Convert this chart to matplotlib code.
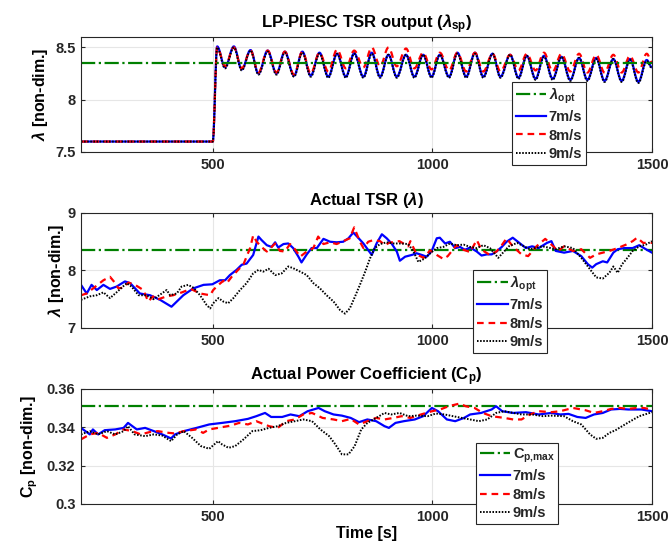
import matplotlib
matplotlib.use("Agg")
import matplotlib.pyplot as plt
from matplotlib.path import Path
from matplotlib.patches import PathPatch
from matplotlib.lines import Line2D

# ---------------------------------------------------------------------------
# Data
# ---------------------------------------------------------------------------

LAMBDA_OPT = 8.35
CP_MAX = 0.351

# Panel 1: LP-PIESC TSR output (setpoint), peaks and troughs of the oscillation
t_sp = [200, 500, 510, 528, 548, 566, 586, 604, 625, 645, 664, 685, 704, 723,
        743, 763, 783, 803, 822, 843, 862, 881, 900, 919, 940, 959, 979, 998,
        1017, 1038, 1057, 1077, 1097, 1116, 1137, 1155, 1177, 1196, 1215, 1235,
        1254, 1274, 1294, 1314, 1334, 1353, 1373, 1392, 1412, 1431, 1450, 1469,
        1488, 1500]
sp_7 = [7.6, 7.6, 8.51, 8.31, 8.51, 8.29, 8.475, 8.25, 8.47, 8.25, 8.46, 8.23,
        8.46, 8.23, 8.45, 8.22, 8.44, 8.22, 8.445, 8.22, 8.45, 8.22, 8.43, 8.22,
        8.43, 8.22, 8.43, 8.22, 8.43, 8.22, 8.45, 8.22, 8.45, 8.22, 8.44, 8.22,
        8.43, 8.21, 8.42, 8.20, 8.42, 8.20, 8.41, 8.19, 8.40, 8.19, 8.40, 8.18,
        8.39, 8.18, 8.39, 8.17, 8.38, 8.31]
sp_8 = [7.6, 7.6, 8.50, 8.32, 8.50, 8.30, 8.47, 8.26, 8.47, 8.26, 8.46, 8.24,
        8.46, 8.25, 8.45, 8.27, 8.48, 8.30, 8.47, 8.31, 8.50, 8.32, 8.50, 8.32,
        8.49, 8.30, 8.45, 8.29, 8.45, 8.28, 8.45, 8.27, 8.45, 8.27, 8.44, 8.27,
        8.43, 8.28, 8.44, 8.28, 8.45, 8.27, 8.44, 8.27, 8.44, 8.26, 8.43, 8.26,
        8.43, 8.26, 8.42, 8.26, 8.44, 8.36]
sp_9 = [7.6, 7.6, 8.50, 8.30, 8.50, 8.28, 8.47, 8.24, 8.46, 8.24, 8.45, 8.22,
        8.45, 8.22, 8.44, 8.21, 8.44, 8.21, 8.44, 8.21, 8.44, 8.21, 8.43, 8.21,
        8.43, 8.21, 8.43, 8.21, 8.43, 8.21, 8.44, 8.21, 8.44, 8.21, 8.44, 8.21,
        8.43, 8.20, 8.42, 8.19, 8.41, 8.19, 8.41, 8.18, 8.40, 8.18, 8.39, 8.17,
        8.39, 8.17, 8.38, 8.16, 8.37, 8.30]

# Panel 2: actual TSR
t_tsr_7 = [200, 213, 224, 236, 251, 266, 281, 300, 312, 334, 357, 380, 406, 433,
           456, 479, 499, 516, 528, 539, 554, 566, 577, 592, 604, 611, 623, 634,
           642, 649, 661, 672, 683, 695, 702, 714, 725, 737, 752, 767, 782, 797,
           809, 820, 831, 843, 862, 873, 885, 896, 907, 919, 926, 938, 953, 964,
           976, 987, 998, 1010, 1017, 1029, 1040, 1052, 1063, 1074, 1086, 1101,
           1112, 1124, 1135, 1146, 1158, 1169, 1183, 1198, 1213, 1227, 1242, 1261,
           1271, 1281, 1300, 1320, 1339, 1354, 1364, 1373, 1388, 1398, 1412, 1422,
           1437, 1456, 1471, 1486, 1500]
tsr_7 = [7.75, 7.60, 7.75, 7.66, 7.75, 7.68, 7.72, 7.81, 7.78, 7.60, 7.57, 7.49,
         7.37, 7.57, 7.69, 7.75, 7.76, 7.83, 7.83, 7.92, 8.01, 8.10, 8.12, 8.27,
         8.59, 8.53, 8.44, 8.41, 8.49, 8.40, 8.46, 8.47, 8.39, 8.24, 8.14, 8.28,
         8.39, 8.39, 8.55, 8.50, 8.49, 8.50, 8.56, 8.66, 8.57, 8.47, 8.27, 8.47,
         8.63, 8.56, 8.47, 8.33, 8.17, 8.24, 8.27, 8.30, 8.27, 8.24, 8.33, 8.56,
         8.57, 8.47, 8.50, 8.39, 8.41, 8.36, 8.40, 8.33, 8.26, 8.28, 8.28, 8.33,
         8.41, 8.50, 8.57, 8.48, 8.39, 8.42, 8.39, 8.48, 8.51, 8.34, 8.31, 8.34,
         8.25, 8.11, 8.05, 8.11, 8.16, 8.14, 8.31, 8.37, 8.39, 8.39, 8.44, 8.37,
         8.31]

t_tsr_8 = [200, 213, 251, 266, 278, 285, 296, 308, 323, 342, 353, 364, 372, 395,
           410, 430, 450, 471, 486, 494, 501, 513, 524, 532, 543, 554, 570, 585,
           592, 600, 611, 623, 634, 642, 653, 664, 676, 687, 699, 714, 729, 740,
           752, 767, 782, 797, 812, 822, 835, 843, 854, 866, 881, 892, 901, 915,
           925, 945, 950, 964, 980, 995, 1010, 1025, 1035, 1055, 1071, 1086, 1101,
           1112, 1131, 1146, 1158, 1169, 1183, 1203, 1218, 1237, 1257, 1271, 1286,
           1300, 1320, 1339, 1359, 1373, 1388, 1403, 1422, 1441, 1456, 1466, 1480,
           1500]
tsr_8 = [7.57, 7.60, 7.83, 7.89, 7.78, 7.69, 7.70, 7.79, 7.75, 7.66, 7.46, 7.55,
         7.49, 7.55, 7.57, 7.62, 7.68, 7.60, 7.58, 7.57, 7.66, 7.75, 7.82, 7.78,
         7.89, 7.98, 8.11, 8.39, 8.61, 8.50, 8.41, 8.33, 8.41, 8.47, 8.34, 8.33,
         8.46, 8.37, 8.24, 8.33, 8.39, 8.59, 8.46, 8.49, 8.46, 8.51, 8.56, 8.75,
         8.50, 8.39, 8.50, 8.53, 8.51, 8.44, 8.48, 8.50, 8.51, 8.42, 8.51, 8.28,
         8.22, 8.35, 8.27, 8.20, 8.25, 8.44, 8.36, 8.32, 8.53, 8.36, 8.27, 8.33,
         8.44, 8.56, 8.42, 8.28, 8.25, 8.42, 8.55, 8.45, 8.34, 8.42, 8.34, 8.37,
         8.22, 8.28, 8.31, 8.34, 8.39, 8.45, 8.51, 8.57, 8.48, 8.48]

t_tsr_9 = [200, 220, 236, 251, 266, 281, 304, 315, 331, 349, 365, 380, 395, 403,
           418, 429, 444, 456, 471, 486, 494, 501, 513, 524, 535, 547, 562, 577,
           592, 604, 615, 627, 642, 657, 672, 683, 699, 714, 729, 744, 759, 775,
           790, 801, 812, 824, 835, 847, 858, 869, 881, 896, 911, 926, 945, 957,
           968, 983, 995, 1010, 1025, 1040, 1055, 1071, 1086, 1101, 1116, 1131,
           1150, 1174, 1193, 1222, 1251, 1281, 1300, 1320, 1339, 1359, 1373, 1388,
           1403, 1412, 1422, 1432, 1441, 1456, 1471, 1486, 1500]
tsr_9 = [7.49, 7.55, 7.57, 7.62, 7.52, 7.62, 7.78, 7.72, 7.57, 7.57, 7.50, 7.58,
         7.66, 7.57, 7.60, 7.72, 7.75, 7.70, 7.57, 7.40, 7.34, 7.43, 7.52, 7.46,
         7.43, 7.52, 7.66, 7.78, 7.95, 8.01, 7.98, 8.03, 7.92, 7.95, 8.07, 8.04,
         7.98, 7.92, 7.78, 7.69, 7.57, 7.46, 7.31, 7.25, 7.34, 7.55, 7.75, 7.98,
         8.21, 8.39, 8.46, 8.49, 8.47, 8.47, 8.46, 8.33, 8.15, 8.21, 8.30, 8.39,
         8.41, 8.47, 8.44, 8.45, 8.41, 8.39, 8.44, 8.39, 8.22, 8.42, 8.48, 8.37,
         8.42, 8.37, 8.42, 8.39, 8.22, 8.02, 7.88, 7.86, 7.96, 8.07, 7.96, 8.11,
         8.19, 8.34, 8.42, 8.45, 8.51]

# Panel 3: actual power coefficient
t_cp_7 = [200, 210, 220, 227, 239, 254, 278, 297, 307, 317, 327, 346, 366, 385,
          405, 414, 434, 463, 492, 521, 551, 580, 599, 619, 633, 658, 677, 697,
          716, 741, 755, 775, 794, 814, 833, 852, 872, 891, 901, 916, 935, 960,
          979, 999, 1013, 1033, 1052, 1072, 1086, 1111, 1135, 1145, 1159, 1184,
          1213, 1242, 1271, 1291, 1310, 1330, 1349, 1368, 1388, 1407, 1427, 1446,
          1476, 1500]
cp_7 = [0.3397, 0.3380, 0.3363, 0.3389, 0.3363, 0.3385, 0.3389, 0.3397, 0.3423,
        0.3406, 0.3389, 0.3397, 0.3380, 0.3363, 0.3342, 0.3363, 0.3380, 0.3397,
        0.3415, 0.3423, 0.3432, 0.3444, 0.3458, 0.3475, 0.3454, 0.3454, 0.3467,
        0.3458, 0.3484, 0.3501, 0.3484, 0.3467, 0.3461, 0.3449, 0.3427, 0.3441,
        0.3432, 0.3406, 0.3397, 0.3423, 0.3432, 0.3441, 0.3458, 0.3501, 0.3484,
        0.3441, 0.3432, 0.3449, 0.3467, 0.3475, 0.3493, 0.3510, 0.3484, 0.3475,
        0.3479, 0.3467, 0.3475, 0.3467, 0.3470, 0.3454, 0.3449, 0.3467, 0.3475,
        0.3493, 0.3496, 0.3493, 0.3493, 0.3484]

t_cp_8 = [200, 220, 239, 259, 278, 297, 317, 336, 356, 375, 400, 414, 434, 463,
          478, 492, 512, 541, 560, 580, 599, 628, 648, 667, 687, 706, 726, 750,
          775, 794, 814, 833, 852, 872, 891, 911, 930, 950, 974, 999, 1018, 1037,
          1062, 1076, 1096, 1115, 1135, 1164, 1184, 1203, 1222, 1242, 1271, 1291,
          1320, 1349, 1368, 1388, 1407, 1427, 1446, 1466, 1481, 1500]
cp_8 = [0.3337, 0.3363, 0.3371, 0.3345, 0.3363, 0.3389, 0.3380, 0.3363, 0.3375,
        0.3380, 0.3371, 0.3368, 0.3380, 0.3389, 0.3371, 0.3389, 0.3397, 0.3409,
        0.3423, 0.3415, 0.3432, 0.3406, 0.3397, 0.3432, 0.3441, 0.3467, 0.3475,
        0.3449, 0.3441, 0.3432, 0.3444, 0.3415, 0.3432, 0.3449, 0.3441, 0.3449,
        0.3458, 0.3449, 0.3467, 0.3484, 0.3493, 0.3510, 0.3524, 0.3510, 0.3501,
        0.3475, 0.3458, 0.3449, 0.3441, 0.3441, 0.3467, 0.3484, 0.3479, 0.3484,
        0.3501, 0.3489, 0.3475, 0.3484, 0.3496, 0.3501, 0.3496, 0.3501, 0.3501,
        0.3493]

t_cp_9 = [200, 220, 239, 259, 278, 297, 307, 322, 346, 366, 385, 405, 419, 434,
          453, 473, 492, 512, 521, 536, 551, 570, 590, 609, 628, 648, 667, 687,
          706, 726, 745, 765, 779, 794, 809, 823, 838, 852, 872, 891, 906, 925,
          945, 964, 989, 1008, 1028, 1047, 1067, 1086, 1106, 1125, 1145, 1164,
          1184, 1203, 1227, 1252, 1271, 1300, 1320, 1339, 1359, 1373, 1388, 1403,
          1417, 1432, 1451, 1471, 1500]
cp_9 = [0.3363, 0.3380, 0.3363, 0.3380, 0.3363, 0.3380, 0.3406, 0.3363, 0.3354,
        0.3363, 0.3357, 0.3328, 0.3363, 0.3380, 0.3345, 0.3302, 0.3288, 0.3328,
        0.3311, 0.3293, 0.3302, 0.3337, 0.3380, 0.3385, 0.3397, 0.3406, 0.3423,
        0.3432, 0.3441, 0.3432, 0.3389, 0.3354, 0.3311, 0.3259, 0.3259, 0.3302,
        0.3389, 0.3423, 0.3449, 0.3475, 0.3467, 0.3475, 0.3458, 0.3461, 0.3458,
        0.3472, 0.3467, 0.3458, 0.3449, 0.3441, 0.3432, 0.3441, 0.3475, 0.3484,
        0.3475, 0.3467, 0.3467, 0.3458, 0.3461, 0.3458, 0.3432, 0.3415, 0.3363,
        0.3340, 0.3345, 0.3371, 0.3385, 0.3406, 0.3432, 0.3458, 0.3479]

LABELS = ["7m/s", "8m/s", "9m/s"]

# ---------------------------------------------------------------------------
# Style
# ---------------------------------------------------------------------------

plt.rcParams["font.family"] = ["Liberation Sans", "DejaVu Sans"]
plt.rcParams["font.weight"] = "bold"
plt.rcParams["mathtext.fontset"] = "custom"
plt.rcParams["mathtext.rm"] = "Liberation Sans"
plt.rcParams["mathtext.bf"] = "Liberation Sans:bold"
plt.rcParams["mathtext.it"] = "Liberation Sans:italic"

FRAME = "#262626"
GRID = "#e6e6e6"
C_OPT = "#008000"
STYLES = [
    dict(color="#0000ff", ls="-", lw=1.6),
    dict(color="#ff0000", ls=(0, (3.0, 2.2)), lw=1.6),
    dict(color="#000000", ls=(0, (0.8, 0.8)), lw=1.4),
]

fig = plt.figure(figsize=(6.70, 5.58), dpi=100)

LEFT, WIDTH, HEIGHT = 0.1209, 0.8522, 0.2061
bottoms = [0.7276, 0.4122, 0.0968]


def smooth_patch(t, v, style):
    """Extrema joined by cubic segments with flat tangents (sine-like waves)."""
    verts = [(t[0], v[0])]
    codes = [Path.MOVETO]
    for i in range(1, len(t)):
        d = (t[i] - t[i - 1]) * 0.36
        verts += [(t[i - 1] + d, v[i - 1]), (t[i] - d, v[i]), (t[i], v[i])]
        codes += [Path.CURVE4] * 3
    return PathPatch(Path(verts, codes), fill=False, edgecolor=style["color"],
                     linestyle=style["ls"], linewidth=style["lw"],
                     capstyle="butt", joinstyle="round")


def style_axes(ax, ylim, yticks, yticklabels):
    ax.set_xlim(200, 1500)
    ax.set_ylim(*ylim)
    ax.set_xticks([500, 1000, 1500])
    ax.set_yticks(yticks)
    ax.set_yticklabels(yticklabels)
    ax.grid(True, color=GRID, lw=0.8)
    ax.set_axisbelow(True)
    ax.tick_params(direction="in", top=True, right=True, length=3,
                   color=FRAME, labelcolor=FRAME, labelsize=10.5, pad=4)
    for lab in ax.get_xticklabels() + ax.get_yticklabels():
        lab.set_fontweight("bold")
    for sp in ax.spines.values():
        sp.set_color(FRAME)
        sp.set_linewidth(0.8)


def add_legend(ax, handles, labels, anchor):
    leg = ax.legend(handles, labels, loc="upper left", bbox_to_anchor=anchor,
                    fancybox=False, framealpha=1, edgecolor=FRAME,
                    fontsize=10.5, handlelength=2.1, handletextpad=0.15,
                    labelspacing=0.3, borderpad=0.25, borderaxespad=0)
    leg.get_frame().set_linewidth(0.8)
    for txt in leg.get_texts():
        txt.set_fontweight("bold")
        txt.set_color(FRAME)


# ── Panel 1 ─────────────────────────────────────────────────────────────
ax1 = fig.add_axes([LEFT, bottoms[0], WIDTH, HEIGHT])
h_opt = ax1.axhline(LAMBDA_OPT, color=C_OPT, ls="-.", lw=1.6)
hs = []
for vals, st in zip([sp_7, sp_8, sp_9], STYLES):
    ax1.add_patch(smooth_patch(t_sp, vals, st))
    hs.append(Line2D([], [], **st))
style_axes(ax1, (7.5, 8.6), [7.5, 8, 8.5], ["7.5", "8", "8.5"])
ax1.set_title(r"LP-PIESC TSR output ($\lambda_{\mathbf{sp}}$)",
              fontsize=12, fontweight="bold", pad=6)
ax1.set_ylabel(r"$\lambda$ [non-dim.]", fontsize=11.5, fontweight="bold", labelpad=4)
add_legend(ax1, [h_opt] + hs, [r"$\lambda_{\mathbf{opt}}$"] + LABELS, (0.755, 0.61))

# ── Panel 2 ─────────────────────────────────────────────────────────────
ax2 = fig.add_axes([LEFT, bottoms[1], WIDTH, HEIGHT])
h_opt = ax2.axhline(LAMBDA_OPT, color=C_OPT, ls="-.", lw=1.6)
hs = []
for tt, vals, st in zip([t_tsr_7, t_tsr_8, t_tsr_9], [tsr_7, tsr_8, tsr_9], STYLES):
    hs.append(ax2.plot(tt, vals, **st)[0])
style_axes(ax2, (7, 9), [7, 8, 9], ["7", "8", "9"])
ax2.set_title(r"Actual TSR ($\lambda$)", fontsize=12, fontweight="bold", pad=6)
ax2.set_ylabel(r"$\lambda$ [non-dim.]", fontsize=11.5, fontweight="bold", labelpad=1)
add_legend(ax2, [h_opt] + hs, [r"$\lambda_{\mathbf{opt}}$"] + LABELS, (0.687, 0.505))

# ── Panel 3 ─────────────────────────────────────────────────────────────
ax3 = fig.add_axes([LEFT, bottoms[2], WIDTH, HEIGHT])
h_opt = ax3.axhline(CP_MAX, color=C_OPT, ls="-.", lw=1.6)
hs = []
for tt, vals, st in zip([t_cp_7, t_cp_8, t_cp_9], [cp_7, cp_8, cp_9], STYLES):
    hs.append(ax3.plot(tt, vals, **st)[0])
style_axes(ax3, (0.3, 0.36), [0.3, 0.32, 0.34, 0.36], ["0.3", "0.32", "0.34", "0.36"])
ax3.set_title(r"Actual Power Coefficient (C$_{\mathbf{p}}$)",
              fontsize=12, fontweight="bold", pad=6)
ax3.set_ylabel(r"C$_{\mathbf{p}}$ [non-dim.]", fontsize=11.5, fontweight="bold", labelpad=5)
ax3.set_xlabel("Time [s]", fontsize=11.5, fontweight="bold", labelpad=2)
add_legend(ax3, [h_opt] + hs, [r"C$_{\mathbf{p{,}max}}$"] + LABELS, (0.692, 0.53))

fig.savefig("out.png", dpi=100, facecolor="white")
